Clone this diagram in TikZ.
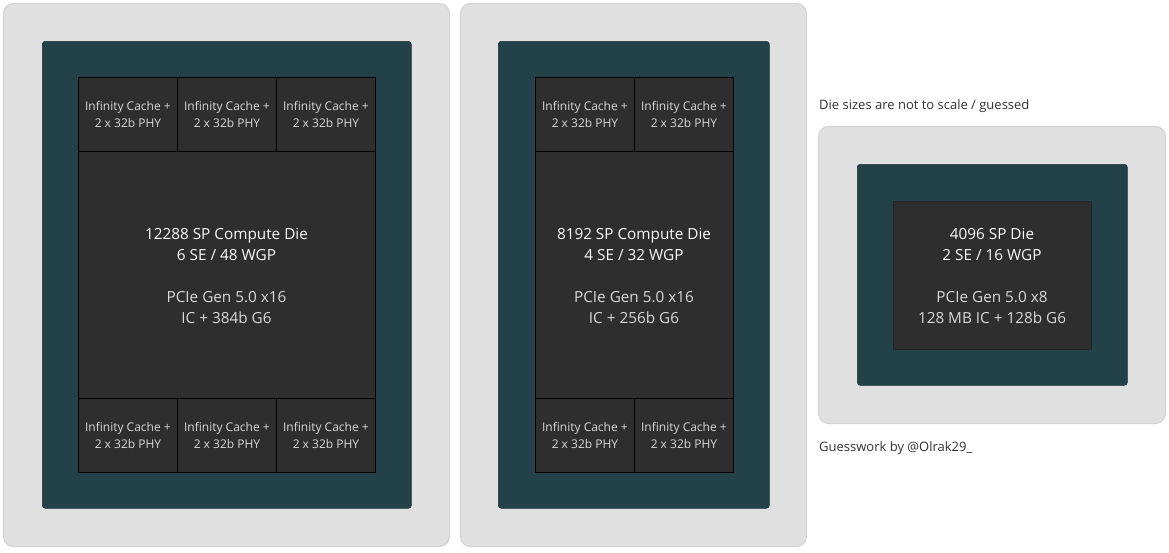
\documentclass[tikz,border=0pt]{standalone}
\usepackage{fontspec}
\setmainfont{Open Sans}
\definecolor{pkgfill}{HTML}{E0E0E0}
\definecolor{pkgedge}{HTML}{D2D2D2}
\definecolor{subfill}{HTML}{234148}
\definecolor{subedge}{HTML}{1B3338}
\definecolor{diefill}{HTML}{2E2E2E}
\definecolor{titlec}{HTML}{FAFAFA}
\definecolor{subc}{HTML}{D8D8D8}
\definecolor{capc}{HTML}{333333}
\tikzset{
  pkg/.style={fill=pkgfill, draw=pkgedge, line width=1pt, rounded corners=10pt, inner sep=0pt, anchor=north west},
  substrate/.style={fill=subfill, draw=subedge, line width=0.6pt, rounded corners=3pt, inner sep=0pt, anchor=north west},
  diebox/.style={fill=diefill, draw=black, line width=0.9pt, inner sep=0pt, anchor=north west},
  soloDie/.style={fill=diefill, draw=diefill!80!black, line width=0.6pt, inner sep=0pt, anchor=north west},
  cell/.style={fill=diefill, draw=black, line width=0.9pt, inner sep=0pt, anchor=north west,
    minimum width=99pt, minimum height=74pt, align=center, text=subc,
    font=\fontsize{12}{16.5}\selectfont},
  dietext/.style={align=center, inner sep=0pt, font=\fontsize{15.3}{21}\selectfont},
  caption/.style={anchor=west, inner sep=0pt, text=capc, font=\fontsize{13}{16}\selectfont}
}
\newcommand{\ictext}{Infinity Cache +\\2 x 32b PHY}
\begin{document}
\begin{tikzpicture}[x=1pt,y=-1pt]
\useasboundingbox (0,0) rectangle (1169,552);
\fill[white] (0,0) rectangle (1169,552);
% package 1
\node[pkg, minimum width=446pt, minimum height=543pt] (p1) at (3,3) {};
\node[substrate, minimum width=369pt, minimum height=467pt] (s1) at (42,41) {};
\node[diebox, minimum width=297pt, minimum height=394pt] (d1) at (78,77) {};
\node[cell] (c1a) at (78,77) {\ictext};
\node[cell] (c1b) at (177,77) {\ictext};
\node[cell] (c1c) at (276,77) {\ictext};
\node[cell] (c1d) at (78,398) {\ictext};
\node[cell] (c1e) at (177,398) {\ictext};
\node[cell] (c1f) at (276,398) {\ictext};
\node[dietext] (t1) at (226.5,276) {\color{titlec}12288 SP Compute Die\\\color{titlec}6 SE / 48 WGP\\[21pt]\color{subc}PCIe Gen 5.0 x16\\\color{subc}IC + 384b G6};
% package 2
\node[pkg, minimum width=346pt, minimum height=543pt] (p2) at (460,3) {};
\node[substrate, minimum width=271pt, minimum height=467pt] (s2) at (498,41) {};
\node[diebox, minimum width=198pt, minimum height=394pt] (d2) at (535,77) {};
\node[cell] (c2a) at (535,77) {\ictext};
\node[cell] (c2b) at (634,77) {\ictext};
\node[cell] (c2c) at (535,398) {\ictext};
\node[cell] (c2d) at (634,398) {\ictext};
\node[dietext] (t2) at (634,276) {\color{titlec}8192 SP Compute Die\\\color{titlec}4 SE / 32 WGP\\[21pt]\color{subc}PCIe Gen 5.0 x16\\\color{subc}IC + 256b G6};
% package 3
\node[pkg, minimum width=347pt, minimum height=297pt] (p3) at (818,126) {};
\node[substrate, minimum width=270pt, minimum height=221pt] (s3) at (857,164) {};
\node[soloDie, minimum width=198pt, minimum height=148pt] (d3) at (893,201) {};
\node[dietext] (t3) at (992,275.5) {\color{titlec}4096 SP Die\\\color{titlec}2 SE / 16 WGP\\[21pt]\color{subc}PCIe Gen 5.0 x8\\\color{subc}128 MB IC + 128b G6};
% captions
\node[caption] (cap1) at (819,106.5) {Die sizes are not to scale / guessed};
\node[caption] (cap2) at (819,448) {Guesswork by @Olrak29\_};
\end{tikzpicture}
\end{document}
